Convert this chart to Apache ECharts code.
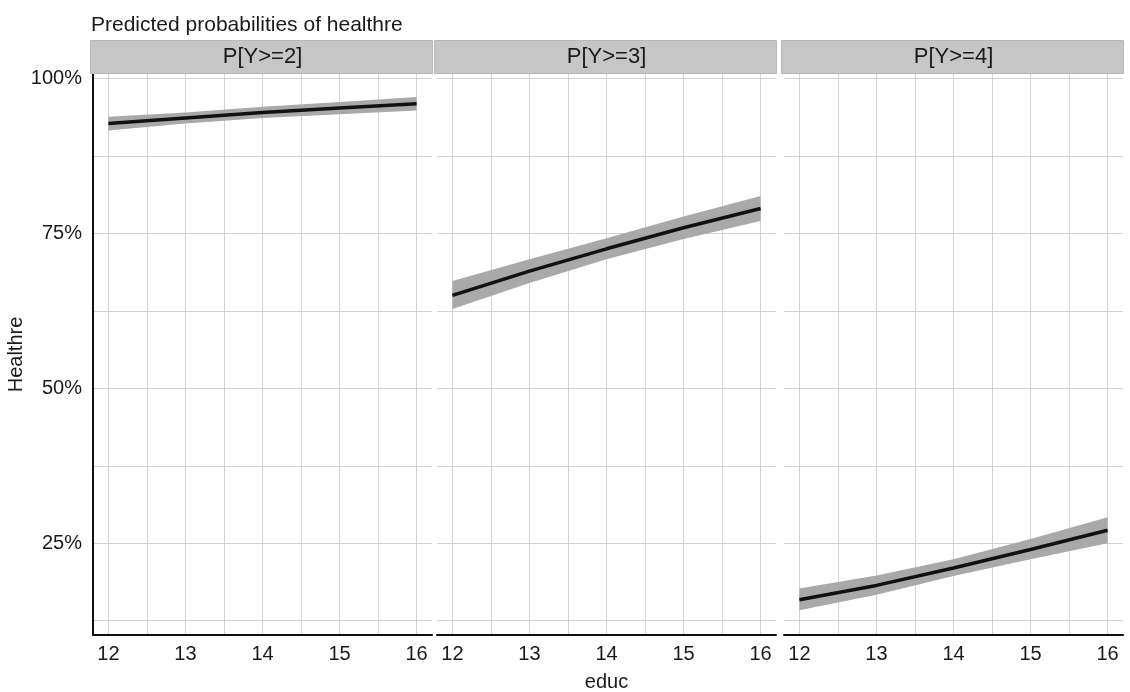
<!DOCTYPE html>
<html><head><meta charset="utf-8">
<script src="https://cdn.jsdelivr.net/npm/echarts@6/dist/echarts.min.js"></script>
<style>html,body{margin:0;padding:0;background:#fff}#c{width:1130px;height:692px}</style>
</head><body><div id="c"></div>
<script>
// ---- data ----
const educ = [12, 13, 14, 15, 16];
const panelNames = ['P[Y>=2]', 'P[Y>=3]', 'P[Y>=4]'];
const fitY2 = [92.7, 93.6, 94.5, 95.2, 95.9];
const loY2  = [91.6, 92.7, 93.6, 94.2, 94.8];
const hiY2  = [93.8, 94.5, 95.4, 96.2, 97.0];
const fitY3 = [65.0, 68.9, 72.5, 75.9, 79.0];
const loY3  = [62.8, 67.0, 70.8, 74.1, 77.0];
const hiY3  = [67.3, 70.8, 74.2, 77.7, 81.0];
const fitY4 = [15.9, 18.2, 21.0, 24.0, 27.1];
const loY4  = [14.2, 16.7, 19.7, 22.4, 25.0];
const hiY4  = [17.7, 19.8, 22.4, 25.7, 29.2];
const xTickLabels = [12, 13, 14, 15, 16];
const xGridValues = [12, 12.5, 13, 13.5, 14, 14.5, 15, 15.5, 16];
const yTickLabels = [25, 50, 75, 100];
const yGridValues = [12.5, 25, 37.5, 50, 62.5, 75, 87.5, 100];

// ---- layout ----
const FONT = '"Liberation Sans", Arial, sans-serif';
const TXT = '#1a1a1a';
const lefts = [93, 437, 784];
const gw = 339, gtop = 74, gh = 561;
const fits = [fitY2, fitY3, fitY4], los = [loY2, loY3, loY4], his = [hiY2, hiY3, hiY4];

const grids = [], xAxes = [], yAxes = [], series = [], graphics = [];
for (let i = 0; i < 3; i++) {
  grids.push({left: lefts[i], top: gtop, width: gw, height: gh, containLabel: false, outerBoundsMode: 'none'});
  xAxes.push({
    type: 'value', gridIndex: i, min: 11.8, max: 16.2,
    name: i === 1 ? 'educ' : '', nameLocation: 'middle', nameGap: 37,
    nameTextStyle: {fontFamily: FONT, fontSize: 20, color: TXT},
    axisLine: {show: true, onZero: false, lineStyle: {color: '#111', width: 2}},
    axisTick: {show: false, customValues: xGridValues},
    axisLabel: {customValues: xTickLabels, fontFamily: FONT, fontSize: 20, color: TXT, margin: 9},
    splitLine: {show: true, lineStyle: {color: '#d3d3d3', width: 1}}
  });
  yAxes.push({
    type: 'value', gridIndex: i, min: 10.2, max: 100.7,
    name: i === 0 ? 'Healthre' : '', nameLocation: 'middle', nameGap: 62, nameRotate: 90,
    nameTextStyle: {fontFamily: FONT, fontSize: 20, color: TXT},
    axisLine: {show: i === 0, onZero: false, lineStyle: {color: '#111', width: 2}},
    axisTick: {show: false, customValues: yGridValues},
    axisLabel: {show: i === 0, customValues: yTickLabels, fontFamily: FONT, fontSize: 20, color: TXT, margin: 11,
                formatter: v => v + '%'},
    splitLine: {show: true, lineStyle: {color: '#d3d3d3', width: 1}}
  });
  const lo = los[i], hi = his[i], fit = fits[i];
  series.push({
    type: 'custom', xAxisIndex: i, yAxisIndex: i, silent: true, z: 3,
    data: educ.map((x, k) => [x, lo[k], hi[k]]),
    renderItem: function (params, api) {
      if (params.dataIndex !== 0) return null;
      const pts = [];
      for (let k = 0; k < educ.length; k++) pts.push(api.coord([educ[k], hi[k]]));
      for (let k = educ.length - 1; k >= 0; k--) pts.push(api.coord([educ[k], lo[k]]));
      return {type: 'polygon', shape: {points: pts}, style: {fill: '#a9a9a9'}};
    }
  });
  series.push({
    type: 'line', xAxisIndex: i, yAxisIndex: i, symbol: 'none', silent: true, z: 5,
    lineStyle: {color: '#111', width: 3.5}, data: educ.map((x, k) => [x, fit[k]])
  });
  graphics.push({type: 'rect', left: lefts[i] - 3, top: 40, shape: {width: gw + 3, height: 33},
    style: {fill: '#c6c6c6', stroke: '#b8b8b8', lineWidth: 1}, z: 10});
  graphics.push({type: 'text', x: lefts[i] + gw / 2, y: 57,
    style: {text: panelNames[i], fontFamily: FONT, fontSize: 22, fill: TXT, align: 'center', verticalAlign: 'middle'}, z: 11});
}

const chart = echarts.init(document.getElementById('c'), null, {renderer: 'canvas'});
chart.setOption({
  backgroundColor: '#fff',
  animation: false,
  title: {text: 'Predicted probabilities of healthre', left: 86, top: 10,
    textStyle: {fontFamily: FONT, fontSize: 21, fontWeight: 'normal', color: TXT}},
  grid: grids, xAxis: xAxes, yAxis: yAxes, series: series, graphic: graphics
});
</script></body></html>
